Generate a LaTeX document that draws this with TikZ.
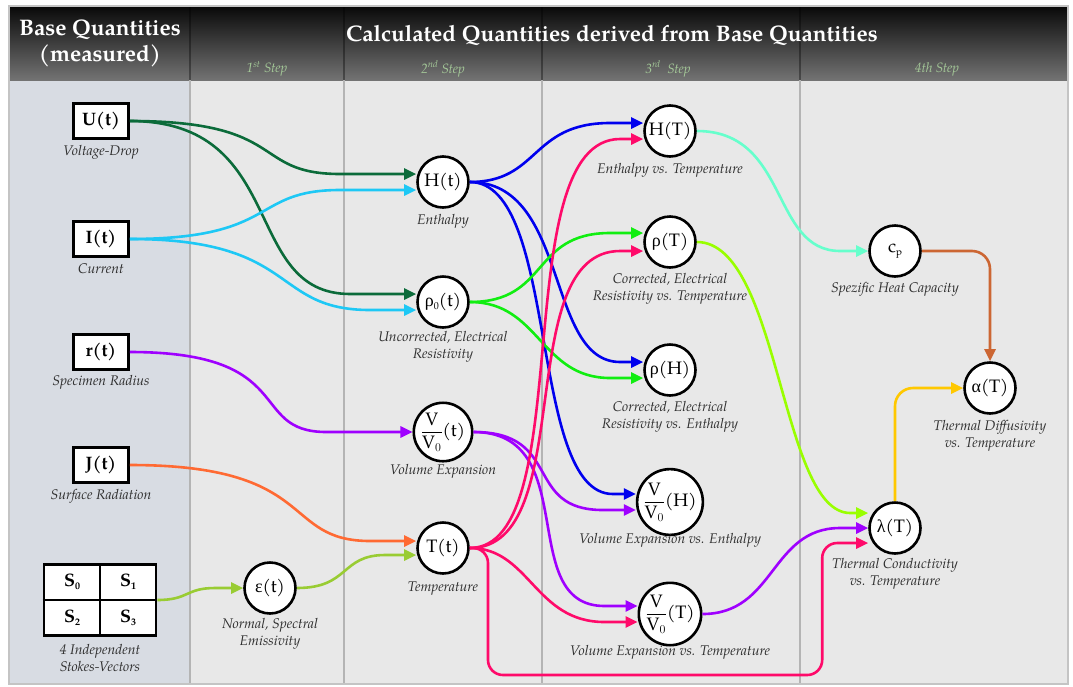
\documentclass[tikz,border=0pt]{standalone}
\usepackage{fontspec}
\setmainfont{TeX Gyre Pagella}
\newfontfamily\grk{Liberation Serif}
\usetikzlibrary{arrows.meta,calc}

% palette
\definecolor{bodygray}{HTML}{E8E8E8}
\definecolor{leftcol}{HTML}{D8DCE3}
\definecolor{sepgray}{HTML}{B4B4B4}
\definecolor{framegray}{HTML}{C4C4C4}
\definecolor{steptext}{HTML}{A4C898}
\definecolor{labeltext}{HTML}{2E2E2E}
\definecolor{cUt}{HTML}{0B6B3A}
\definecolor{cIt}{HTML}{1EC8F5}
\definecolor{cPur}{HTML}{9F00FF}
\definecolor{cJt}{HTML}{FF6A33}
\definecolor{cSt}{HTML}{99CC33}
\definecolor{cHt}{HTML}{0000EE}
\definecolor{cRho}{HTML}{11EE11}
\definecolor{cTt}{HTML}{FF0A6A}
\definecolor{cHT}{HTML}{66FFCC}
\definecolor{cRT}{HTML}{99FF00}
\definecolor{cCp}{HTML}{CC6633}
\definecolor{cLa}{HTML}{FFC800}

\tikzset{
  qbox/.style={draw,line width=2.6pt,fill=white,minimum width=55pt,minimum height=35pt,
    inner sep=0pt,font=\bfseries\fontsize{18}{20}\selectfont},
  qcirc/.style={circle,draw,line width=2.6pt,fill=white,minimum size=51pt,inner sep=0pt,
    font=\fontsize{18}{20}\selectfont},
  lbl/.style={font=\itshape\fontsize{14}{16.5}\selectfont,text=labeltext,align=center,inner sep=0pt},
  steplbl/.style={font=\itshape\fontsize{13.5}{15}\selectfont,text=steptext,inner sep=0pt},
  headtxt/.style={font=\bfseries\fontsize{22.5}{26}\selectfont,text=white,inner sep=0pt},
  conn/.style={line width=2.6pt,-{Triangle[length=12pt,width=11pt]}},
  colsep/.style={sepgray,line width=2.6pt},
  headsep/.style={black,opacity=0.35,line width=2pt},
}

% S-shaped connector: colour, source, target, vertical offset at target,
% first control distance, second control distance, straight run before the tip
\newcommand\link[7]{\draw[conn,#1] (#2) .. controls +(#5,0) and +(-#6,0) ..
  ($(#3)+(-#7,#4)$) -- ($(#3)+(0,#4)$);}
\newcommand\subs[1]{\raisebox{-0.35ex}{\fontsize{10}{10}\selectfont #1}}
\newcommand\vfrac{$\displaystyle\frac{\mathrm{V}}{\mathrm{V}_{0}}$}

\begin{document}
\begin{tikzpicture}[x=1pt,y=-1pt]
\useasboundingbox (0,0) rectangle (1073,686);
\fill[white] (0,0) rectangle (1073,686);

% panels
\fill[bodygray] (10,80) rectangle (1068,683);
\fill[leftcol] (10,80) rectangle (190,683);
\shade[top color=black!96,bottom color=black!55] (10,7) rectangle (1068,80);

% column separators
\foreach \x in {190,344,542,800} {
  \draw[colsep] (\x,80) -- (\x,683);
}
\foreach \x in {190,344,542,800} {
  \draw[headsep] (\x,7) -- (\x,80);
}
\draw[framegray,line width=2.4pt] (9,6) rectangle (1068,684);

% header
\node[headtxt] (hbase1) at (100,30) {Base Quantities};
\node[headtxt] (hbase2) at (100,56) {(measured)};
\node[headtxt] (hcalc) at (612,35) {Calculated Quantities derived from Base Quantities};
\node[steplbl] (s1) at (267,69) {1\textsuperscript{st} Step};
\node[steplbl] (s2) at (443,69) {2\textsuperscript{nd} Step};
\node[steplbl] (s3) at (668,69) {3\textsuperscript{rd}\ \ Step};
\node[steplbl] (s4) at (937,69) {4th Step};

% measured quantities
\node[qbox] (Ut) at (101,121) {U(t)};
\node[lbl] (UtL) at (101,152) {Voltage-Drop};
\node[qbox] (It) at (101,239) {I(t)};
\node[lbl] (ItL) at (101,269) {Current};
\node[qbox] (Rt) at (101,352) {r(t)};
\node[lbl] (RtL) at (101,382) {Specimen Radius};
\node[qbox] (Jt) at (101,465) {J(t)};
\node[lbl] (JtL) at (101,496) {Surface Radiation};

% Stokes vectors grid
\node[draw,line width=2.6pt,fill=white,minimum width=112pt,minimum height=70.5pt,inner sep=0pt] (S) at (100,600) {};
\draw[line width=2.6pt] (S.north) -- (S.south) (S.west) -- (S.east);
\node[font=\bfseries\fontsize{18}{20}\selectfont] (S0) at ($(S.center)+(-28,-18)$) {S\subs{0}};
\node[font=\bfseries\fontsize{18}{20}\selectfont] (S1) at ($(S.center)+(28,-18)$) {S\subs{1}};
\node[font=\bfseries\fontsize{18}{20}\selectfont] (S2) at ($(S.center)+(-28,18)$) {S\subs{2}};
\node[font=\bfseries\fontsize{18}{20}\selectfont] (S3) at ($(S.center)+(28,18)$) {S\subs{3}};
\node[lbl] (SL) at (100,658) {4 Independent\\Stokes-Vectors};

% 1st step
\node[qcirc] (Eps) at (270,588) {{\grk ε}(t)};
\node[lbl] (EpsL) at (270,634) {Normal, Spectral\\Emissivity};

% 2nd step
\node[qcirc] (Ht) at (443,182) {H(t)};
\node[lbl] (HtL) at (443,221) {Enthalpy};
\node[qcirc] (Rz) at (443,302) {{\grk ρ}\subs{0}(t)};
\node[lbl] (RzL) at (443,347) {Uncorrected, Electrical\\Resistivity};
\node[qcirc] (Vt) at (443,432) {\vfrac(t)};
\node[lbl] (VtL) at (443,471) {Volume Expansion};
\node[qcirc] (Tt) at (443,548) {T(t)};
\node[lbl] (TtL) at (443,589) {Temperature};

% 3rd step
\node[qcirc] (HT) at (670,131) {H(T)};
\node[lbl] (HTL) at (670,170) {Enthalpy vs. Temperature};
\node[qcirc] (RT) at (670,242) {{\grk ρ}(T)};
\node[lbl] (RTL) at (670,289) {Corrected, Electrical\\Resistivity vs. Temperature};
\node[qcirc] (RH) at (670,370) {{\grk ρ}(H)};
\node[lbl] (RHL) at (670,417) {Corrected, Electrical\\Resistivity vs. Enthalpy};
\node[qcirc] (VH) at (670,502) {\vfrac(H)};
\node[lbl] (VHL) at (670,540) {Volume Expansion vs. Enthalpy};
\node[qcirc] (VT) at (670,614) {\vfrac(T)};
\node[lbl] (VTL) at (670,652) {Volume Expansion vs. Temperature};

% 4th step
\node[qcirc] (Cp) at (895,251) {c\subs{p}};
\node[lbl] (CpL) at (895,289) {Spezific Heat Capacity};
\node[qcirc] (Al) at (990,388) {{\grk α}(T)};
\node[lbl] (AlL) at (990,436) {Thermal Diffusivity\\vs. Temperature};
\node[qcirc] (La) at (895,528) {{\grk λ}(T)};
\node[lbl] (LaL) at (895,574) {Thermal Conductivity\\vs. Temperature};

% base quantities -> 1st/2nd step
\link{cUt}{Ut.east}{Ht.west}{-8}{160}{90}{76}
\link{cUt}{Ut.east}{Rz.west}{-8}{160}{110}{66}
\link{cIt}{It.east}{Ht.west}{8}{150}{90}{76}
\link{cIt}{It.east}{Rz.west}{8}{170}{100}{46}
\link{cPur}{Rt.east}{Vt.west}{0}{170}{80}{86}
\link{cJt}{Jt.east}{Tt.west}{-7}{190}{90}{46}
\link{cSt}{S.east}{Eps.west}{0}{32}{30}{28}
\link{cSt}{Eps.east}{Tt.west}{7}{53}{45}{31}

% 2nd step -> 3rd step
\link{cHt}{Ht.east}{HT.west}{-8}{70}{80}{33}
\link{cHt}{Ht.east}{RH.west}{-8}{100}{75}{23}
\link{cHt}{Ht.east}{VH.west}{-8}{90}{85}{23}
\link{cRho}{Rz.east}{RT.west}{-9}{80}{80}{33}
\link{cRho}{Rz.east}{RH.west}{8}{70}{70}{33}
\link{cPur}{Vt.east}{VH.west}{8}{90}{80}{33}
\link{cPur}{Vt.east}{VT.west}{-8}{110}{90}{33}
\link{cTt}{Tt.east}{HT.west}{8}{110}{115}{23}
\link{cTt}{Tt.east}{RT.west}{9}{110}{110}{23}
\link{cTt}{Tt.east}{VT.west}{8}{60}{70}{33}

% 3rd step -> 4th step
\link{cHT}{HT.east}{Cp.west}{0}{93}{70}{28}
\link{cRT}{RT.east}{La.west}{-15}{83}{70}{18}
\link{cPur}{VT.east}{La.west}{0}{73}{70}{28}
\draw[conn,cTt,rounded corners=15pt] (Tt.east) -| (488,675) -| ($(La.west)+(-46,15)$) -- ($(La.west)+(0,15)$);

% within the 4th step
\draw[conn,cCp,rounded corners=18pt] (Cp.east) -| (Al.north);
\draw[conn,cLa,rounded corners=18pt] (La.north) |- (Al.west);
\end{tikzpicture}
\end{document}
